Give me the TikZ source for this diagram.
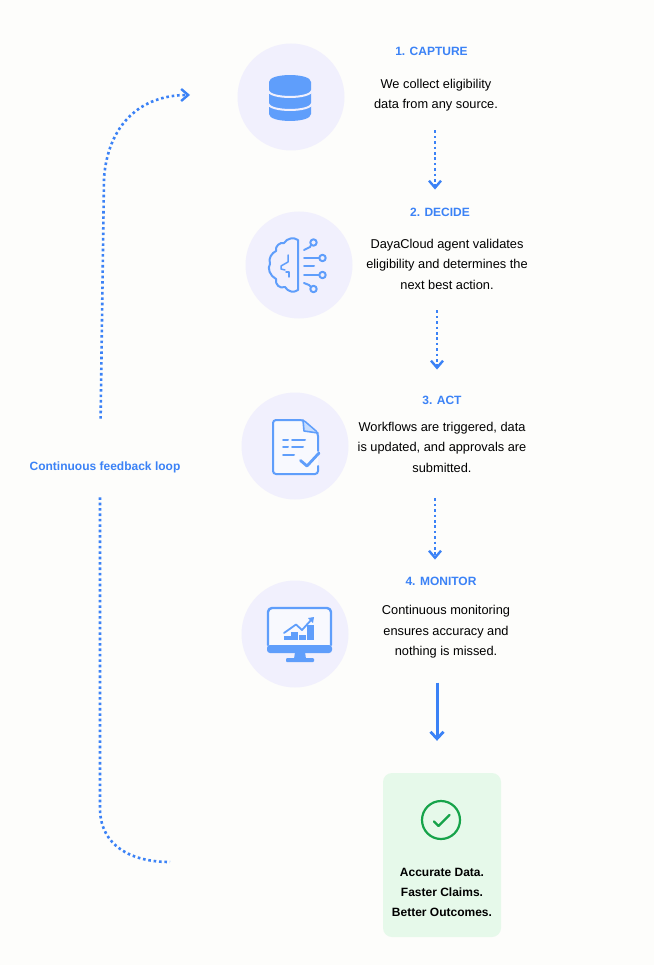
\documentclass[tikz,border=0pt]{standalone}
\usepackage{fontspec}
\setmainfont{Liberation Sans}
\usetikzlibrary{arrows.meta}

\definecolor{pagebg}{HTML}{FDFDFB}
\definecolor{flowblue}{HTML}{3B82F6}
\definecolor{iconblue}{HTML}{5F9EFB}
\definecolor{discbg}{HTML}{F1F0FD}
\definecolor{iconbg}{HTML}{F8F9FE}
\definecolor{okbg}{HTML}{E6F9EA}
\definecolor{okgreen}{HTML}{16A34A}

\tikzset{
	disc/.style={circle,fill=discbg,minimum size=107pt,inner sep=0pt},
	steptitle/.style={text=flowblue,font=\fontsize{12}{15}\selectfont\bfseries,inner sep=0pt},
	stepbody/.style={text=black,align=center,font=\fontsize{12.8}{20.5}\selectfont,inner sep=0pt},
	flowdot/.style={draw=flowblue,line width=2.6pt,dash pattern=on 2.6pt off 2.8pt,
		-{Straight Barb[length=7pt,width=12pt,line width=2.4pt]}},
	loopdot/.style={draw=flowblue,line width=2.6pt,dash pattern=on 2.6pt off 2.8pt},
	flowsolid/.style={draw=flowblue,line width=3pt,
		-{Straight Barb[length=7pt,width=13pt,line width=2.8pt]}},
	iconline/.style={draw=iconblue,line width=2pt,line cap=round,line join=round},
}

\begin{document}
\begin{tikzpicture}[x=1pt,y=-1pt]
	% Hintergrund
	\fill[pagebg] (0,0) rectangle (654,965);
	\useasboundingbox (0,0) rectangle (654,965);
	
	% Kreise
	\node[disc] (capturedisc) at (291,97) {};
	\node[disc] (decidedisc) at (299,265) {};
	\node[disc] (actdisc) at (295,446) {};
	\node[disc] (monitordisc) at (295,634) {};
	
	% Texte
	\node[steptitle] (capturetitle) at (431.5,51) {1. CAPTURE};
	\node[stepbody] (capturebody) at (436,95) {We collect eligibility\\data from any source.};
	\node[steptitle] (decidetitle) at (440,212) {2. DECIDE};
	\node[stepbody] (decidebody) at (447,264) {DayaCloud agent validates\\eligibility and determines the\\next best action.};
	\node[steptitle] (acttitle) at (442,400) {3. ACT};
	\node[stepbody] (actbody) at (442,447) {Workflows are triggered, data\\is updated, and approvals are\\submitted.};
	\node[steptitle] (monitortitle) at (441,581) {4. MONITOR};
	\node[stepbody] (monitorbody) at (446,632) {Continuous monitoring\\ensures accuracy and\\nothing is missed.};
	
	% Ergebnis
	\node[fill=okbg,rounded corners=9pt,minimum width=118pt,minimum height=164pt,inner sep=0pt] (resultbox) at (442,855) {};
	\node[circle,draw=okgreen,line width=2.2pt,minimum size=38pt,inner sep=0pt] (resultmark) at (441,820) {};
	\draw[okgreen,line width=2.2pt,line cap=round,line join=round] (434,821.5) -- (438.5,826) -- (449.5,815);
	\node[text=black,align=center,inner sep=0pt,font=\fontsize{12}{20}\selectfont\bfseries] (resulttext) at (442,892) {Accurate Data.\\Faster Claims.\\Better Outcomes.};
	
	% Pfeile zwischen den Schritten
	\draw[flowdot,shorten <=19pt,shorten >=18pt] ([xshift=-1pt]capturebody.south) -- ([xshift=-5pt]decidetitle.north);
	\draw[flowdot,shorten <=21pt,shorten >=26pt] ([xshift=-10pt]decidebody.south) -- ([xshift=-5pt]acttitle.north);
	\draw[flowdot,shorten <=26pt,shorten >=17pt] ([xshift=-7pt]actbody.south) -- ([xshift=-6pt]monitortitle.north);
	\draw[flowsolid,shorten <=24pt,shorten >=32pt] ([xshift=-9pt]monitorbody.south) -- ([xshift=-5pt]resultbox.north);
	
	% Rueckkopplung
	\node[text=flowblue,inner sep=0pt,font=\fontsize{12}{15}\selectfont\bfseries] (feedback) at (105,467.5) {Continuous feedback loop};
	\coordinate (loopstart) at (170,862);
	\coordinate (loopend) at (190,95);
	\draw[loopdot,shorten <=24pt] ([xshift=-5pt]feedback.south) -- (100,810)
		.. controls (101,845) and (130,862) .. (loopstart);
	\draw[flowdot,shorten <=43pt] ([xshift=-5pt]feedback.north) -- (104,178)
		.. controls (108,125) and (140,95) .. (loopend);
	
	% Datenbank
	\fill[iconblue] (269,82) .. controls (269,72.7) and (311,72.7) .. (311,82)
		-- (311,114) .. controls (311,123.3) and (269,123.3) .. (269,114) -- cycle;
	\draw[discbg,line width=2pt] (268,90) .. controls (268,99.3) and (312,99.3) .. (312,90);
	\draw[discbg,line width=2pt] (268,103) .. controls (268,112.3) and (312,112.3) .. (312,103);
	
	% Gehirn
	\draw[iconline] (298,240) -- (298,290) .. controls (294,293) and (288,292) .. (285,287)
		.. controls (280,289) and (275,285) .. (276,279)
		.. controls (270,276) and (267,268) .. (270,264)
		.. controls (268,258) and (272,253) .. (276,251)
		.. controls (275,246) and (280,242) .. (284,243)
		.. controls (287,238) and (294,237) .. (298,240);
	\draw[iconline,line width=1.5pt] (288,255) -- (288,262) -- (281,266) -- (281,269) -- (285,270);
	\draw[iconline,line width=1.5pt] (286,272) -- (289,272) -- (289,277);
	\foreach \ya in {258,275}{
		\draw[iconline] (304,\ya) -- (319,\ya);
		\draw[iconline] (322.5,\ya) circle (3.2);
	}
	\draw[iconline] (304,266) -- (314,266);
	\draw[iconline] (304,250) -- (310,247) -- (311,245);
	\draw[iconline] (313.5,242.5) circle (3.2);
	\draw[iconline] (304,283) -- (309,285) -- (311,287);
	\draw[iconline] (313.5,289) circle (3.2);
	
	% Dokument
	\fill[iconbg,rounded corners=3pt] (273,420) -- (303,420) -- (318,433) -- (318,474) -- (273,474) -- cycle;
	\draw[iconline,rounded corners=3pt] (318,451) -- (318,433) -- (303,420) -- (273,420) -- (273,474) -- (318,474) -- (318,466);
	\fill[iconblue!35!white] (303,421) -- (304,431) -- (317,433) -- cycle;
	\draw[iconline,line width=1.6pt] (303,420) -- (304,431) -- (318,433);
	\draw[iconline] (283,440) -- (288,440) (292,440) -- (305,440);
	\draw[iconline] (283,447) -- (288,447) (292,447) -- (303,447);
	\draw[iconline] (283,455) -- (294,455);
	\draw[iconline,line width=2.8pt] (300.5,460.5) -- (307,466) -- (319,453);
	
	% Monitor
	\fill[iconbg,rounded corners=3pt] (268,608) rectangle (331,650);
	\draw[iconline,line width=2.4pt,rounded corners=4pt] (268,645) -- (268,608) -- (331,608) -- (331,645);
	\fill[iconblue,rounded corners=3pt] (267,645) -- (332,645) -- (332,653) -- (267,653) -- cycle;
	\fill[iconblue] (295,652) -- (305,652) -- (306,659) -- (294,659) -- cycle;
	\fill[iconblue,rounded corners=1pt] (286,658) rectangle (314,662);
	\foreach \xa/\ya in {284/636,291/632,299/635,307/625}
		\fill[iconblue] (\xa,\ya) rectangle ++(6.5,640-\ya);
	\draw[iconline,line width=1.8pt] (284,633) -- (296,624.5) -- (302,630) -- (312,619);
	\fill[iconblue] (314,617) -- (308,618) -- (313,623) -- cycle;
\end{tikzpicture}
\end{document}
